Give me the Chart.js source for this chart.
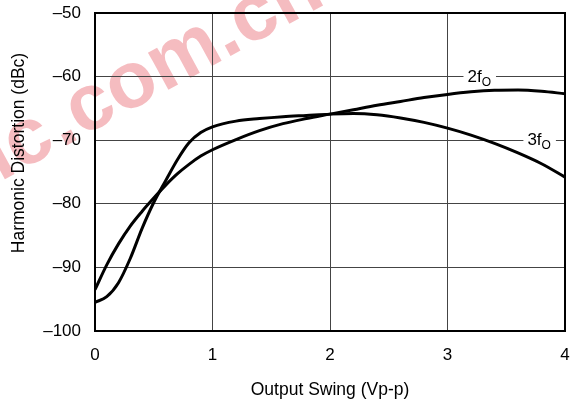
<!DOCTYPE html>
<html>
<head>
<meta charset="utf-8">
<script src="https://cdn.jsdelivr.net/npm/chart.js@4"></script>
<style>
  html, body { margin: 0; padding: 0; background: #fff; }
  #wrap { width: 579px; height: 401px; position: relative; }
</style>
</head>
<body>
<div id="wrap"><canvas id="distChart"></canvas></div>
<script>
// output swing (Vp-p)
const swing = [0, 0.1, 0.2, 0.3, 0.4, 0.5, 0.6, 0.7, 0.8, 0.9, 1.0, 1.2, 1.4, 1.6, 1.8,
  2.0, 2.2, 2.4, 2.6, 2.8, 3.0, 3.2, 3.4, 3.6, 3.8, 4.0];
// 2nd harmonic (dBc)
const hd2 = [-93.5, -89.6, -86.3, -83.5, -81.2, -79.1, -77.1, -75.3, -73.8, -72.5, -71.5,
  -69.9, -68.5, -67.4, -66.6, -65.9, -65.2, -64.5, -63.9, -63.3, -62.8, -62.4, -62.15,
  -62.1, -62.3, -62.7];
// 3rd harmonic (dBc)
const hd3 = [-95.5, -94.6, -92.4, -88.6, -83.9, -79.8, -76.4, -73.1, -70.4, -68.8, -67.9,
  -67.0, -66.6, -66.3, -66.1, -65.9, -65.8, -66.0, -66.5, -67.2, -68.1, -69.2, -70.5,
  -72.0, -73.7, -75.8];

const xTicks = [0, 1, 2, 3, 4];
const yTicks = [-100, -90, -80, -70, -60, -50];

// curve labels: text, subscript, anchor (x, y) in data units
const curveLabels = [
  { main: "2f", sub: "O", x: 3.17, y: -60 },
  { main: "3f", sub: "O", x: 3.68, y: -70 }
];

const FONT = "'Liberation Sans', Arial, Helvetica, sans-serif";

const toPoints = (xs, ys) => xs.map((x, i) => ({ x: x, y: ys[i] }));

// faint watermark behind the plot, like the scanned original
const watermark = {
  id: "watermark",
  beforeDraw(chart) {
    const ctx = chart.ctx;
    ctx.save();
    ctx.translate(62, 148);
    ctx.rotate(-0.5);
    ctx.font = "bold 80px " + FONT;
    ctx.fillStyle = "rgba(230, 80, 90, 0.38)";
    ctx.textBaseline = "alphabetic";
    ctx.textAlign = "left";
    ctx.fillText(".com.cn", 0, 0);
    ctx.textAlign = "right";
    ctx.fillText("ic", -4, 0);
    ctx.restore();
  }
};

// box round the plot, curve labels and y title
const frameAndLabels = {
  id: "frameAndLabels",
  afterDatasetsDraw(chart) {
    const ctx = chart.ctx;
    const area = chart.chartArea;
    const xs = chart.scales.x;
    const ys = chart.scales.y;
    ctx.save();
    ctx.strokeStyle = "#000";
    ctx.lineWidth = 2;
    ctx.strokeRect(area.left, area.top, area.right - area.left, area.bottom - area.top);

    curveLabels.forEach(lab => {
      const px = xs.getPixelForValue(lab.x);
      const py = ys.getPixelForValue(lab.y);
      ctx.font = "17px " + FONT;
      const w1 = ctx.measureText(lab.main).width;
      ctx.font = "12px " + FONT;
      const w2 = ctx.measureText(lab.sub).width;
      ctx.fillStyle = "#fff";
      ctx.fillRect(px - 4, py - 3, w1 + w2 + 9, 6);
      ctx.fillStyle = "#000";
      ctx.textAlign = "left";
      ctx.textBaseline = "alphabetic";
      ctx.font = "17px " + FONT;
      ctx.fillText(lab.main, px, py + 5);
      ctx.font = "12px " + FONT;
      ctx.fillText(lab.sub, px + w1, py + 9);
    });

    // y axis title, set a little above the axis centre as in the original
    ctx.translate(19, 153);
    ctx.rotate(-Math.PI / 2);
    ctx.font = "17.5px " + FONT;
    ctx.textAlign = "center";
    ctx.textBaseline = "middle";
    ctx.fillStyle = "#000";
    ctx.fillText("Harmonic Distortion (dBc)", 0, 0);
    ctx.restore();
  }
};

const ctx = document.getElementById("distChart").getContext("2d");
new Chart(ctx, {
  type: "line",
  data: {
    datasets: [
      {
        label: "2fO",
        data: toPoints(swing, hd2),
        borderColor: "#000",
        borderWidth: 3,
        pointRadius: 0,
        cubicInterpolationMode: "monotone",
        fill: false
      },
      {
        label: "3fO",
        data: toPoints(swing, hd3),
        borderColor: "#000",
        borderWidth: 3,
        pointRadius: 0,
        cubicInterpolationMode: "monotone",
        fill: false
      }
    ]
  },
  options: {
    responsive: true,
    maintainAspectRatio: false,
    animation: false,
    layout: { padding: { left: 0, right: 14, top: 13, bottom: 0 } },
    plugins: {
      legend: { display: false },
      tooltip: { enabled: false }
    },
    scales: {
      x: {
        type: "linear",
        min: 0,
        max: 4,
        afterBuildTicks: scale => { scale.ticks = xTicks.map(v => ({ value: v })); },
        afterFit: scale => {
          scale.height = 70;
          scale.paddingLeft = 0;
          scale.paddingRight = 0;
        },
        grid: { color: "#444", lineWidth: 1, drawTicks: false },
        border: { display: true, color: "#000", width: 2 },
        ticks: {
          padding: 14,
          color: "#000",
          font: { family: FONT, size: 17 }
        },
        title: {
          display: true,
          text: "Output Swing (Vp-p)",
          color: "#000",
          font: { family: FONT, size: 17.5 },
          padding: { top: 10, bottom: 0 }
        }
      },
      y: {
        type: "linear",
        min: -100,
        max: -50,
        afterBuildTicks: scale => { scale.ticks = yTicks.map(v => ({ value: v })); },
        afterFit: scale => {
          scale.width = 95;
          scale.paddingTop = 0;
          scale.paddingBottom = 0;
        },
        grid: { color: "#444", lineWidth: 1, drawTicks: false },
        border: { display: true, color: "#000", width: 2 },
        ticks: {
          padding: 14,
          color: "#000",
          font: { family: FONT, size: 17 },
          callback: v => (v < 0 ? "\u2013" + Math.abs(v) : String(v))
        }
      }
    }
  },
  plugins: [watermark, frameAndLabels]
});
</script>
</body>
</html>
